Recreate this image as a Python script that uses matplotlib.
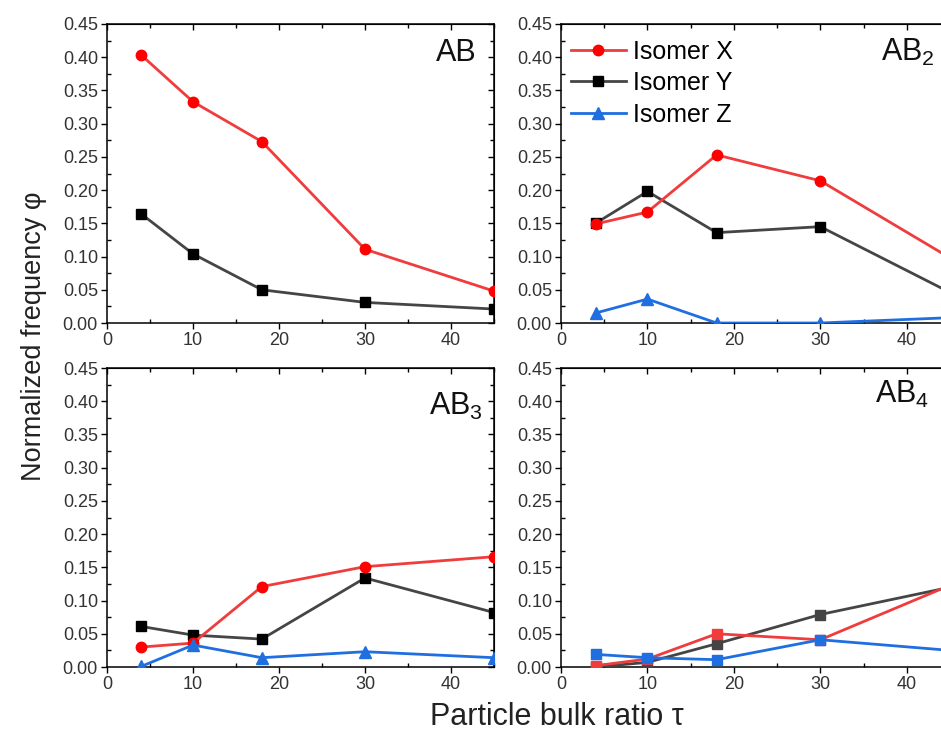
import matplotlib
matplotlib.use("Agg")
import matplotlib.pyplot as plt
from matplotlib.ticker import MultipleLocator, FormatStrFormatter

plt.rcParams['font.family'] = ['Liberation Sans', 'DejaVu Sans']
plt.rcParams['mathtext.default'] = 'regular'

# ---- data ----
tau = [4, 10, 18, 30, 45]

ab_x = [0.403, 0.333, 0.273, 0.111, 0.048]
ab_y = [0.164, 0.104, 0.050, 0.031, 0.021]

ab2_x = [0.149, 0.167, 0.253, 0.214, 0.098]
ab2_y = [0.150, 0.198, 0.136, 0.145, 0.046]
ab2_z = [0.015, 0.036, 0.000, 0.000, 0.008]

ab3_x = [0.030, 0.036, 0.121, 0.151, 0.166]
ab3_y = [0.061, 0.048, 0.042, 0.134, 0.082]
ab3_z = [0.001, 0.033, 0.014, 0.023, 0.014]

ab4_x = [0.002, 0.012, 0.050, 0.041, 0.123]
ab4_y = [0.000, 0.007, 0.035, 0.079, 0.120]
ab4_z = [0.019, 0.014, 0.011, 0.041, 0.025]

panel_labels = ['AB', r'AB$_2$', r'AB$_3$', r'AB$_4$']
series_names = ['Isomer X', 'Isomer Y', 'Isomer Z']

RED_L, RED_M = '#f03c3c', '#ff0000'
GRY_L, GRY_M = '#454545', '#000000'
BLU_L, BLU_M = '#1f6fe0', '#1f6fe0'

fig = plt.figure(figsize=(9.41, 7.38), dpi=100)
W, H = 941, 738

def make_ax(x0, y_top, w=389, h=299):
    return fig.add_axes([x0 / W, (H - y_top - h) / H, w / W, h / H])

ax1 = make_ax(107, 24, w=387)
ax2 = make_ax(561, 24)
ax3 = make_ax(107, 368, w=387)
ax4 = make_ax(561, 368)

def style(ax):
    ax.set_xlim(0, 45)
    ax.set_ylim(0, 0.45)
    ax.xaxis.set_major_locator(MultipleLocator(10))
    ax.xaxis.set_minor_locator(MultipleLocator(5))
    ax.yaxis.set_major_locator(MultipleLocator(0.05))
    ax.yaxis.set_minor_locator(MultipleLocator(0.025))
    ax.yaxis.set_major_formatter(FormatStrFormatter('%.2f'))
    ax.tick_params(which='major', direction='out', length=4, width=1,
                   labelsize=13, labelcolor='#333333', pad=2.5)
    ax.tick_params(which='minor', direction='in', length=3, width=1)
    for s in ax.spines.values():
        s.set_linewidth(1.1)
    sx = ax.secondary_xaxis('top')
    sx.xaxis.set_major_locator(MultipleLocator(10))
    sx.xaxis.set_minor_locator(MultipleLocator(5))
    sx.tick_params(which='major', direction='in', length=4, width=1, labeltop=False)
    sx.tick_params(which='minor', direction='in', length=3, width=1)
    sy = ax.secondary_yaxis('right')
    sy.yaxis.set_major_locator(MultipleLocator(0.05))
    sy.yaxis.set_minor_locator(MultipleLocator(0.025))
    sy.tick_params(which='major', direction='in', length=4, width=1, labelright=False)
    sy.tick_params(which='minor', direction='in', length=3, width=1)

for ax in (ax1, ax2, ax3, ax4):
    style(ax)

lw = 2.0
# AB
ax1.plot(tau, ab_y, color=GRY_L, lw=lw, marker='s', ms=7, mfc=GRY_M, mec=GRY_M, zorder=3)
ax1.plot(tau, ab_x, color=RED_L, lw=lw, marker='o', ms=7.5, mfc=RED_M, mec=RED_M, zorder=4)

# AB2
l_y, = ax2.plot(tau, ab2_y, color=GRY_L, lw=lw, marker='s', ms=7, mfc=GRY_M, mec=GRY_M, zorder=3, label=series_names[1])
l_x, = ax2.plot(tau, ab2_x, color=RED_L, lw=lw, marker='o', ms=7.5, mfc=RED_M, mec=RED_M, zorder=4, label=series_names[0])
l_z, = ax2.plot(tau, ab2_z, color=BLU_L, lw=lw, marker='^', ms=8, mfc=BLU_M, mec=BLU_M, zorder=5, label=series_names[2])

# AB3
ax3.plot(tau, ab3_y, color=GRY_L, lw=lw, marker='s', ms=7, mfc=GRY_M, mec=GRY_M, zorder=3)
ax3.plot(tau, ab3_x, color=RED_L, lw=lw, marker='o', ms=7.5, mfc=RED_M, mec=RED_M, zorder=4)
ax3.plot(tau, ab3_z, color=BLU_L, lw=lw, marker='^', ms=8, mfc=BLU_M, mec=BLU_M, zorder=5)

# AB4
ax4.plot(tau, ab4_y, color=GRY_L, lw=lw, marker='s', ms=7, mfc='#444444', mec='#444444', zorder=3)
ax4.plot(tau, ab4_x, color=RED_L, lw=lw, marker='s', ms=7, mfc='#f03c3c', mec='#f03c3c', zorder=4)
ax4.plot(tau, ab4_z, color=BLU_L, lw=lw, marker='s', ms=7, mfc=BLU_M, mec=BLU_M, zorder=5)

ax2.legend(handles=[l_x, l_y, l_z], loc='upper left', bbox_to_anchor=(0.025, 0.948),
           frameon=False, fontsize=18, handlelength=2.2, handletextpad=0.3,
           labelspacing=0.3, borderpad=0, borderaxespad=0)

label_pos = [(43, 0.394), (43.2, 0.395), (43.7, 0.379), (42.6, 0.397)]
for ax, lab, (px, py) in zip((ax1, ax2, ax3, ax4), panel_labels, label_pos):
    ax.text(px, py, lab, ha='right', va='baseline', fontsize=22, color='#111111')

fig.text(0.036, 0.545, 'Normalized frequency φ', rotation=90, ha='center', va='center',
         fontsize=19.5, color='#222222')
fig.text(0.592, 0.029, 'Particle bulk ratio τ', ha='center', va='center',
         fontsize=22, color='#222222')

fig.savefig('out.png', dpi=100)
